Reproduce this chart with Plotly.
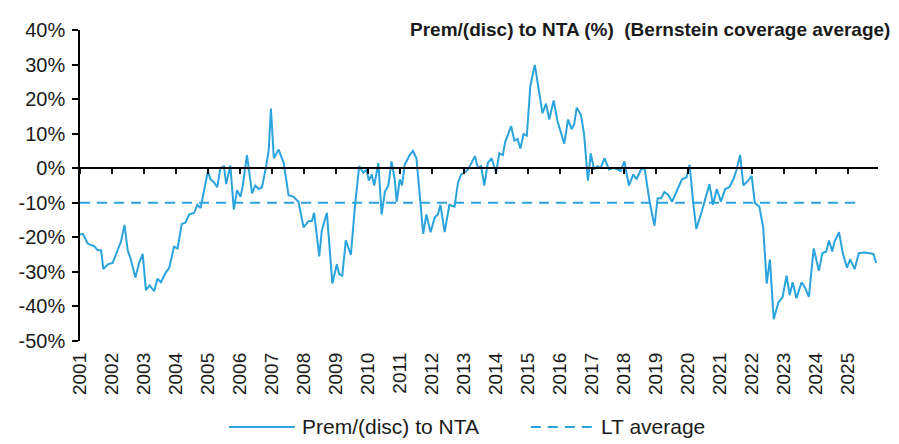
import plotly.graph_objects as go

# ---- data ----
dates = [2001.00, 2001.09, 2001.24, 2001.45, 2001.55, 2001.66, 2001.73, 2001.87, 2002.02, 2002.18,
         2002.28, 2002.39, 2002.49, 2002.59, 2002.73, 2002.85, 2002.96, 2003.06, 2003.18, 2003.32,
         2003.42, 2003.53, 2003.68, 2003.79, 2003.94, 2004.05, 2004.18, 2004.30, 2004.41, 2004.57,
         2004.67, 2004.77, 2004.93, 2005.00, 2005.08, 2005.19, 2005.29, 2005.39, 2005.50, 2005.57,
         2005.70, 2005.81, 2005.91, 2006.02, 2006.09, 2006.22, 2006.38, 2006.48, 2006.59, 2006.69,
         2006.82, 2006.90, 2006.97, 2007.06, 2007.21, 2007.37, 2007.52, 2007.68, 2007.83, 2007.99,
         2008.15, 2008.25, 2008.32, 2008.48, 2008.56, 2008.72, 2008.89, 2009.03, 2009.10, 2009.20,
         2009.31, 2009.47, 2009.60, 2009.73, 2009.86, 2009.96, 2010.03, 2010.12, 2010.20, 2010.33,
         2010.43, 2010.53, 2010.64, 2010.74, 2010.84, 2010.90, 2011.00, 2011.07, 2011.15, 2011.31,
         2011.41, 2011.52, 2011.73, 2011.83, 2011.96, 2012.09, 2012.19, 2012.27, 2012.40, 2012.55,
         2012.71, 2012.82, 2012.92, 2013.02, 2013.13, 2013.23, 2013.35, 2013.44, 2013.54, 2013.64,
         2013.75, 2013.87, 2014.01, 2014.11, 2014.22, 2014.29, 2014.37, 2014.48, 2014.58, 2014.68,
         2014.77, 2014.87, 2014.97, 2015.08, 2015.22, 2015.33, 2015.46, 2015.57, 2015.67, 2015.81,
         2015.93, 2016.14, 2016.26, 2016.37, 2016.45, 2016.53, 2016.66, 2016.76, 2016.88, 2016.97,
         2017.07, 2017.18, 2017.28, 2017.40, 2017.54, 2017.69, 2017.90, 2018.02, 2018.16, 2018.30,
         2018.40, 2018.54, 2018.65, 2018.81, 2018.96, 2019.06, 2019.17, 2019.27, 2019.40, 2019.51,
         2019.67, 2019.82, 2019.96, 2020.06, 2020.18, 2020.27, 2020.44, 2020.60, 2020.68, 2020.79,
         2020.91, 2021.04, 2021.17, 2021.30, 2021.43, 2021.53, 2021.64, 2021.74, 2021.89, 2022.00,
         2022.10, 2022.24, 2022.36, 2022.47, 2022.57, 2022.69, 2022.83, 2022.97, 2023.09, 2023.19,
         2023.28, 2023.40, 2023.56, 2023.66, 2023.79, 2023.94, 2024.10, 2024.21, 2024.33, 2024.42,
         2024.52, 2024.59, 2024.73, 2024.85, 2024.98, 2025.08, 2025.22, 2025.35, 2025.53, 2025.68,
         2025.81, 2025.89]

prem_disc = [-19.2, -19.0, -21.8, -22.6, -23.7, -23.8, -29.2, -27.8, -27.4, -23.7,
             -21.3, -16.4, -23.7, -26.4, -31.6, -27.4, -24.8, -35.3, -33.9, -35.6,
             -32.0, -33.0, -30.2, -28.8, -22.7, -23.2, -16.2, -15.7, -13.4, -12.9,
             -10.6, -11.5, -3.2, -0.8, -3.2, -4.1, -5.5, 0.1, 0.6, -4.6,
             0.8, -12.0, -6.4, -8.3, -5.0, 3.8, -7.3, -5.0, -6.0, -5.5,
             0.6, 5.2, 17.3, 2.9, 5.4, 1.5, -7.8, -8.3, -9.7, -17.1,
             -15.3, -15.3, -12.9, -25.5, -18.1, -12.9, -33.4, -27.8, -30.6, -31.1,
             -20.9, -25.1, -10.6, 0.6, -1.3, -0.4, -3.6, -1.8, -5.0, 1.5,
             -13.4, -6.9, -5.0, 2.0, -3.2, -9.7, -3.2, -5.0, 1.0, 3.8,
             5.0, 2.9, -19.0, -13.4, -18.5, -14.3, -13.4, -10.6, -18.5, -10.6,
             -11.1, -4.1, -1.8, -1.3, -0.4, 1.5, 3.5, 0.1, 0.6, -5.0,
             1.5, 2.9, -1.3, 4.3, 3.8, 7.5, 9.4, 12.2, 8.0, 8.5,
             5.7, 9.9, 9.4, 23.8, 29.9, 23.8, 15.9, 18.7, 14.1, 19.6,
             13.6, 7.1, 14.1, 11.3, 12.7, 17.5, 15.5, 9.9, -3.6, 4.3,
             -0.4, 0.6, 0.1, 2.9, -0.4, 0.1, -0.8, 2.0, -5.0, -1.8,
             -3.2, -0.4, 0.1, -9.7, -16.7, -8.7, -8.7, -6.9, -7.8, -9.7,
             -6.4, -3.2, -2.7, 1.0, -10.6, -17.6, -12.5, -6.9, -4.6, -10.6,
             -6.0, -9.7, -6.0, -5.5, -3.2, -0.4, 3.8, -5.0, -3.6, -2.2,
             -10.1, -11.1, -17.1, -33.4, -26.4, -43.7, -39.0, -37.2, -31.1, -36.7,
             -33.0, -37.6, -33.0, -34.4, -37.2, -23.2, -29.7, -24.6, -24.1, -20.9,
             -24.1, -21.3, -18.5, -24.6, -28.8, -26.4, -29.2, -24.6, -24.4, -24.6,
             -24.8, -27.4]

lt_average = -10.0
lt_span = [2001.0, 2025.45]

years = list(range(2001, 2026))
year_labels = [str(y) for y in years]
y_ticks = [40, 30, 20, 10, 0, -10, -20, -30, -40, -50]
y_labels = [f"{v}%" for v in y_ticks]

series_name = "Prem/(disc) to NTA"
avg_name = "LT average"
title_text = "Prem/(disc) to NTA (%)  (Bernstein coverage average)"

# ---- style ----
BLUE = "#2ba3dd"
TXT = "#1a1a1a"
FONT = "Liberation Sans, Arial, sans-serif"
X_RANGE = [2001.0, 2025.95]
Y_RANGE = [-50, 40]

# page has an 8px body margin; compensate so the plot lands where the reference has it
W, H = 891, 436
PL, PR, PT, PB = 77.5, 878.5, 19, 341   # plot area in page pixels
OFF = 8
ml, mt = PL - OFF, PT - OFF
mr, mb = W - (PR - OFF), H - (PB - OFF)
pw, ph = PR - PL, PB - PT


def px(v):
    return (v - PL) / pw


def py(v):
    return (PB - v) / ph


fig = go.Figure()
fig.add_trace(go.Scatter(x=dates, y=prem_disc, mode="lines", name=series_name,
                         line=dict(color=BLUE, width=2), showlegend=False))
fig.add_trace(go.Scatter(x=lt_span, y=[lt_average, lt_average], mode="lines", name=avg_name,
                         line=dict(color=BLUE, width=2, dash="10px,7px"), showlegend=False))
# invisible trace to activate the zero-line axis
fig.add_trace(go.Scatter(x=[X_RANGE[0]], y=[0], xaxis="x2", mode="markers",
                         marker=dict(opacity=0), showlegend=False, hoverinfo="skip"))

fig.update_layout(
    width=W, height=H,
    margin=dict(l=ml, r=mr, t=mt, b=mb, pad=0),
    paper_bgcolor="white", plot_bgcolor="white",
    font=dict(family=FONT, color=TXT, size=19),
    xaxis=dict(range=X_RANGE, tickmode="array", tickvals=years, ticktext=year_labels,
               tickangle=-90, showgrid=False, zeroline=False, showline=False,
               ticks="", ticklabelstandoff=7, tickfont=dict(size=19, color=TXT)),
    xaxis2=dict(range=X_RANGE, overlaying="x", anchor="free", position=50 / 90,
                tickmode="array", tickvals=years, showticklabels=False,
                showgrid=False, zeroline=False, showline=True, linecolor="black",
                linewidth=1.5, ticks="outside", ticklen=5, tickwidth=1.5, tickcolor="black"),
    yaxis=dict(range=Y_RANGE, tickmode="array", tickvals=y_ticks, ticktext=y_labels,
               showgrid=False, zeroline=False, showline=True, linecolor="black", linewidth=1.5,
               ticks="outside", ticklen=6, tickwidth=1.5, tickcolor="black",
               ticklabelstandoff=3, tickfont=dict(size=20, color=TXT)),
    showlegend=False,
)

# title
fig.add_annotation(text=f"<b>{title_text}</b>", xref="paper", yref="paper",
                   x=px(893), y=py(18), xanchor="right", yanchor="middle",
                   showarrow=False, font=dict(size=19, color=TXT, family=FONT))

# manual legend
ly = py(430)
fig.add_shape(type="line", xref="paper", yref="paper", x0=px(227), x1=px(293), y0=ly, y1=ly,
              line=dict(color=BLUE, width=2))
fig.add_annotation(text=series_name, xref="paper", yref="paper", x=px(298), y=ly,
                   xanchor="left", yanchor="middle", showarrow=False,
                   font=dict(size=21, color=TXT, family=FONT))
fig.add_shape(type="line", xref="paper", yref="paper", x0=px(530), x1=px(592), y0=ly, y1=ly,
              line=dict(color=BLUE, width=2, dash="10px,7px"))
fig.add_annotation(text=avg_name, xref="paper", yref="paper", x=px(598), y=ly,
                   xanchor="left", yanchor="middle", showarrow=False,
                   font=dict(size=21, color=TXT, family=FONT))

fig.write_html("out.html")
